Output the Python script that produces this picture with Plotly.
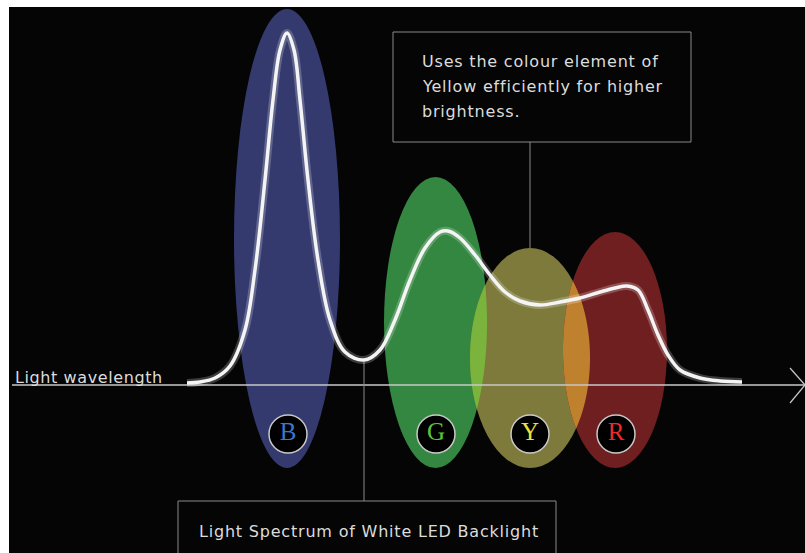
import numpy as np
import plotly.graph_objects as go

W, H = 805, 553

# ---- data (in image pixel units) ----
curve_x = [187, 200, 215, 230, 245, 255, 265, 273, 280, 287, 294, 300, 308, 318, 330, 345, 364,
           380, 395, 410, 425, 440, 448, 460, 475, 490, 505, 520, 540, 560, 580, 600, 615, 627,
           638, 648, 658, 668, 680, 700, 720, 742]
curve_y = [383, 382, 378, 366, 330, 270, 180, 100, 50, 33, 50, 100, 180, 260, 320, 352, 360,
           350, 320, 280, 248, 232, 231, 238, 255, 275, 292, 301, 305, 302, 298, 292, 288, 286,
           290, 310, 335, 355, 370, 378, 381, 382]

band_letters = ["B", "G", "Y", "R"]
band_left = [234, 384, 470, 563]
band_right = [340, 487, 590, 667]
band_top = [9, 177, 248, 232]
band_bottom = [468, 468, 468, 468]
band_fill = ["#343a6e", "#348741", "#7e7a3c", "#6f1f20"]
letter_colors = ["#3a78cc", "#5cc43a", "#e8e23c", "#ec2a2a"]
letter_x = [288, 436, 530, 616]
letter_y = [434, 434, 434, 434]

overlap_pairs = [(1, 2), (2, 3)]
overlap_fill = ["#7ab43c", "#c0812f"]

axis_y = 385
note_lines = ["Uses the colour element of", "Yellow efficiently for higher", "brightness."]
note_line_y = [61, 86, 111]
caption = "Light Spectrum of White LED Backlight"
axis_label = "Light wavelength"

# ---- figure ----
fig = go.Figure()
shapes = []

# black canvas
shapes.append(dict(type="rect", xref="x", yref="y", x0=9, x1=W + 5, y0=7, y1=H + 5,
                   fillcolor="#050505", line=dict(width=0), layer="below"))

# bands (ellipses)
for i in range(len(band_letters)):
    shapes.append(dict(type="circle", xref="x", yref="y", x0=band_left[i], x1=band_right[i],
                       y0=band_top[i], y1=band_bottom[i], fillcolor=band_fill[i],
                       line=dict(width=0), layer="below"))


def ellipse_params(i):
    cx = (band_left[i] + band_right[i]) / 2
    cy = (band_top[i] + band_bottom[i]) / 2
    rx = (band_right[i] - band_left[i]) / 2
    ry = (band_bottom[i] - band_top[i]) / 2
    return cx, cy, rx, ry


def lens_path(a, b):
    t = np.linspace(0, 2 * np.pi, 1440)
    pts = []
    for p, q in ((a, b), (b, a)):
        cx, cy, rx, ry = ellipse_params(p)
        qx, qy, qrx, qry = ellipse_params(q)
        xs = cx + rx * np.cos(t)
        ys = cy + ry * np.sin(t)
        inside = ((xs - qx) / qrx) ** 2 + ((ys - qy) / qry) ** 2 <= 1.0
        pts.extend(zip(xs[inside], ys[inside]))
    pts = np.array(pts)
    c = pts.mean(axis=0)
    ang = np.arctan2(pts[:, 1] - c[1], pts[:, 0] - c[0])
    pts = pts[np.argsort(ang)]
    return "M " + " L ".join(f"{x:.2f},{y:.2f}" for x, y in pts) + " Z"


for (a, b), col in zip(overlap_pairs, overlap_fill):
    shapes.append(dict(type="path", xref="x", yref="y", path=lens_path(a, b),
                       fillcolor=col, line=dict(width=0), layer="below"))

# axis with arrow
ax_col = "#c8c8c8"
shapes.append(dict(type="line", xref="x", yref="y", x0=12, x1=W, y0=axis_y, y1=axis_y,
                   line=dict(color=ax_col, width=1.5), layer="below"))
shapes.append(dict(type="line", xref="x", yref="y", x0=790, x1=W, y0=368, y1=axis_y,
                   line=dict(color=ax_col, width=1.2), layer="below"))
shapes.append(dict(type="line", xref="x", yref="y", x0=790, x1=W, y0=403, y1=axis_y,
                   line=dict(color=ax_col, width=1.2), layer="below"))

# callout boxes and leaders
box_col = "#8a8a8a"
shapes.append(dict(type="rect", xref="x", yref="y", x0=393, x1=691, y0=32, y1=142,
                   line=dict(color=box_col, width=1), fillcolor="rgba(0,0,0,0)", layer="below"))
shapes.append(dict(type="line", xref="x", yref="y", x0=530, x1=530, y0=142, y1=248,
                   line=dict(color=box_col, width=1), layer="below"))
shapes.append(dict(type="rect", xref="x", yref="y", x0=178, x1=556, y0=501, y1=H + 10,
                   line=dict(color=box_col, width=1), fillcolor="rgba(0,0,0,0)", layer="below"))
shapes.append(dict(type="line", xref="x", yref="y", x0=364, x1=364, y0=362, y1=501,
                   line=dict(color=box_col, width=1), layer="below"))

# spectrum curve (glow + line)
fig.add_trace(go.Scatter(x=curve_x, y=curve_y, mode="lines",
                         line=dict(color="rgba(255,255,255,0.22)", width=8, shape="spline", smoothing=1.0),
                         hoverinfo="skip", showlegend=False))
fig.add_trace(go.Scatter(x=curve_x, y=curve_y, mode="lines",
                         line=dict(color="#f4f4f4", width=3.5, shape="spline", smoothing=1.0),
                         hoverinfo="skip", showlegend=False))

# lettered circles
fig.add_trace(go.Scatter(x=letter_x, y=letter_y, mode="markers+text",
                         marker=dict(size=38, color="#000000", line=dict(color="#c8c8c8", width=1.5)),
                         text=band_letters, textposition="middle center",
                         textfont=dict(family="Liberation Serif, serif", size=25, color=letter_colors),
                         hoverinfo="skip", showlegend=False))

txt_col = "#dcdcdc"
annotations = []
for line, ly in zip(note_lines, note_line_y):
    annotations.append(dict(x=420, y=ly, xref="x", yref="y", xanchor="left", yanchor="middle",
                            text=f"<span style='letter-spacing:0.8px'>{line}</span>", showarrow=False,
                            font=dict(family="DejaVu Sans", size=16, color=txt_col)))
annotations.append(dict(x=369, y=531, xref="x", yref="y", xanchor="center", yanchor="middle",
                        text=f"<span style='letter-spacing:0.8px'>{caption}</span>", showarrow=False,
                        font=dict(family="DejaVu Sans", size=16, color=txt_col)))
annotations.append(dict(x=13, y=377, xref="x", yref="y", xanchor="left", yanchor="middle",
                        text=f"<span style='letter-spacing:0.6px'>{axis_label}</span>", showarrow=False,
                        font=dict(family="DejaVu Sans", size=16, color=txt_col)))

fig.update_layout(
    width=W, height=H,
    margin=dict(l=0, r=0, t=0, b=0),
    paper_bgcolor="#ffffff", plot_bgcolor="#ffffff",
    shapes=shapes, annotations=annotations,
    xaxis=dict(range=[0, W], visible=False, fixedrange=True),
    yaxis=dict(range=[H, 0], visible=False, fixedrange=True),
    showlegend=False,
)

fig.write_html("out.html", config={"displayModeBar": False},
               post_script="document.body.style.margin='0';document.body.style.overflow='hidden';")
